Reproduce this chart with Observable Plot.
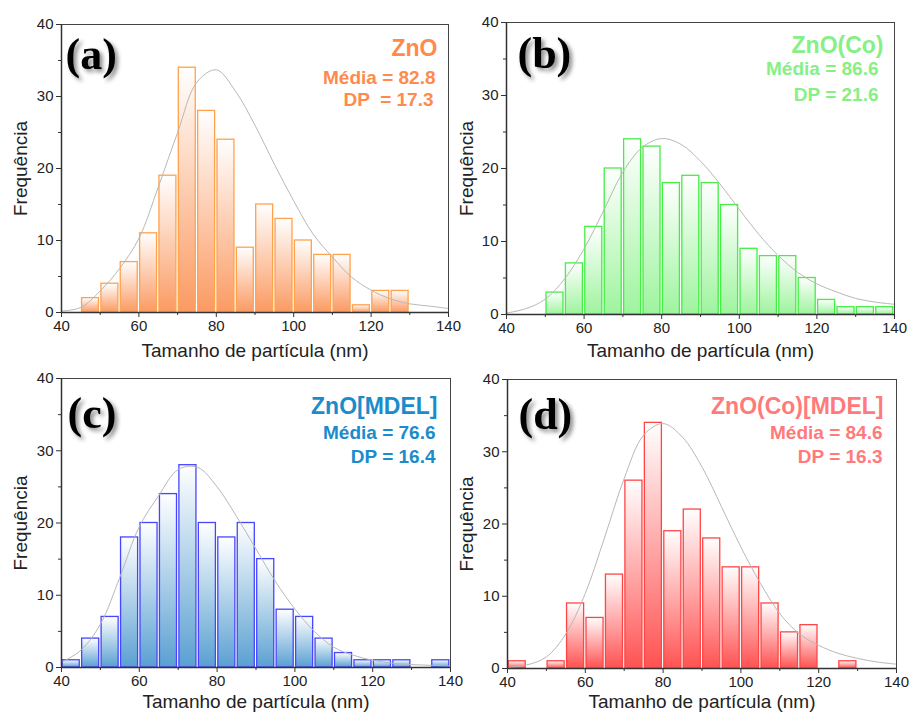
<!DOCTYPE html>
<html><head><meta charset="utf-8">
<script src="https://cdn.jsdelivr.net/npm/d3@7"></script>
<script src="https://cdn.jsdelivr.net/npm/@observablehq/plot@0.6"></script>
<style>
body{margin:0;background:#fff;}
#root{position:relative;width:912px;height:713px;overflow:hidden;background:#fff;}
.panel{position:absolute;}
</style></head><body>
<svg width="0" height="0" style="position:absolute">
<defs>
<linearGradient id="gA" x1="0" y1="0" x2="0" y2="1"><stop offset="0" stop-color="#ffffff"/><stop offset="1" stop-color="#fb9a62"/></linearGradient>
<linearGradient id="gB" x1="0" y1="0" x2="0" y2="1"><stop offset="0" stop-color="#ffffff"/><stop offset="1" stop-color="#9ef49e"/></linearGradient>
<linearGradient id="gC" x1="0" y1="0" x2="0" y2="1"><stop offset="0" stop-color="#ffffff"/><stop offset="1" stop-color="#5aa0d2"/></linearGradient>
<linearGradient id="gD" x1="0" y1="0" x2="0" y2="1"><stop offset="0" stop-color="#ffffff"/><stop offset="1" stop-color="#ff5252"/></linearGradient>
</defs></svg>
<div id="root"></div>
<script>
// bin starts (nm), bins are 5 nm wide
const binStarts = [40,45,50,55,60,65,70,75,80,85,90,95,100,105,110,115,120,125,130,135];
const countsA = [0,2,4,7,11,19,34,28,24,9,15,13,10,8,8,1,3,3,0,0];
const countsB = [0,0,3,7,12,20,24,23,18,19,18,15,9,8,8,5,2,1,1,1];
const countsC = [1,4,7,18,20,24,28,20,18,20,15,8,7,4,2,1,1,1,0,1];
const countsD = [1,0,1,9,7,13,26,34,19,22,18,14,14,9,5,6,0,1,0,0];

// fitted curve
const curveX = [40,45,50,55,60,65,70,75,80,85,90,95,100,105,110,115,120,125,130,135,140];
const curveA = [0.2,0.7,3.0,6.1,10.3,17.4,25,32,33.7,30.7,26,20.6,15.5,10.9,7.7,4.9,3.1,1.9,1.2,0.9,0.55];
const curveB = [0.2,0.8,2.1,4.9,9,14.2,19.5,22.9,24.1,23.3,21,17.9,14.4,11,8.1,5.8,4.2,3.1,2.2,1.7,1.4];
const curveC = [0.7,2.4,6,12.5,19.5,23.8,27.4,27.7,25,20.9,16.4,11.9,8.1,5,2.8,1.7,1,0.6,0.4,0.3,0.2];
const curveD = [0.15,0.5,1.6,4.8,10.4,18.2,26.3,32.3,33.9,32,27.9,22.4,16.8,11.8,7.6,4.8,3.2,2.1,1.4,0.9,0.6];

const letters = ["(a)","(b)","(c)","(d)"];
const titles = ["ZnO","ZnO(Co)","ZnO[MDEL]","ZnO(Co)[MDEL]"];
const medias = ["Média = 82.8","Média = 86.6","Média = 76.6","Média = 84.6"];
const dps = ["DP  = 17.3","DP = 21.6","DP = 16.4","DP = 16.3"];
const xTicks = [40,60,80,100,120,140];
const xMinor = [50,70,90,110,130];
const yTicks = [0,10,20,30,40];
const yMinor = [5,15,25,35];
const xTitle = "Tamanho de partícula (nm)";
const yTitle = "Frequência";

const panels = [
  {counts: countsA, curve: curveA, grad: "url(#gA)", stroke: "#ffa24e", tcol: "#ff8a4d",
   left: 0, top: 0, mL: 61, mT: 24, mR: 8, mB: 44,
   letter: [4, 44], t: [[-11,31],[-13,59],[-15,81]], xt: 44, yt: -41},
  {counts: countsB, curve: curveB, grad: "url(#gB)", stroke: "#44ee44", tcol: "#86f086",
   left: 445, top: 0, mL: 61, mT: 22, mR: 7, mB: 42,
   letter: [11, 45], t: [[-11,30],[-16,52],[-16,78]], xt: 42, yt: -40},
  {counts: countsC, curve: curveC, grad: "url(#gC)", stroke: "#4646ff", tcol: "#1a8ccc",
   left: 0, top: 356, mL: 61, mT: 22, mR: 6, mB: 45,
   letter: [6, 49], t: [[-13,35],[-15,60],[-15,84]], xt: 40, yt: -41},
  {counts: countsD, curve: curveD, grad: "url(#gD)", stroke: "#ff4646", tcol: "#ff7a7a",
   left: 446, top: 357, mL: 61, mT: 22, mR: 6, mB: 45,
   letter: [11, 49], t: [[-13,34],[-14,59],[-14,83]], xt: 39, yt: -41}
];

const root = document.getElementById("root");
panels.forEach((p, i) => {
  const bars = binStarts.map((b, j) => ({x1: b, x2: b + 5, y: p.counts[j]})).filter(d => d.y > 0);
  const pts = curveX.map((x, j) => ({x, y: p.curve[j]}));
  const svg = Plot.plot({
    width: 456, height: 356,
    marginLeft: p.mL, marginTop: p.mT, marginRight: p.mR, marginBottom: p.mB,
    x: {domain: [40, 140], label: null},
    y: {domain: [0, 40], label: null},
    style: {fontFamily: "'Liberation Sans', Arial, sans-serif", fontSize: "15px", color: "#222", background: "transparent", overflow: "visible"},
    marks: [
      Plot.rectY(bars, {x1: "x1", x2: "x2", y: "y", fill: p.grad, stroke: p.stroke, strokeWidth: 1.3, insetLeft: 1.2, insetRight: 1.2}),
      Plot.line(pts, {x: "x", y: "y", stroke: "#b8b8b8", strokeWidth: 1, curve: "catmull-rom"}),
      Plot.frame({stroke: "#444", strokeWidth: 1}),
      Plot.ruleX([40], {stroke: "#333", strokeWidth: 1.5}),
      Plot.ruleY([0], {stroke: "#333", strokeWidth: 1.5}),
      Plot.axisX({ticks: xTicks, tickSize: 5, tickPadding: 3, fontSize: 15, label: null, stroke: "#333"}),
      Plot.axisX({ticks: xMinor, tickSize: 3, tickFormat: () => "", label: null, stroke: "#333"}),
      Plot.axisY({ticks: yTicks, tickSize: 5, tickPadding: 3, fontSize: 15, label: null, stroke: "#333"}),
      Plot.axisY({ticks: yMinor, tickSize: 3, tickFormat: () => "", label: null, stroke: "#333"}),
      Plot.text([xTitle], {frameAnchor: "bottom", dy: p.xt, lineAnchor: "bottom", fontSize: 19, fill: "#222"}),
      Plot.text([yTitle], {frameAnchor: "left", dx: p.yt, rotate: -90, textAnchor: "middle", lineAnchor: "middle", fontSize: 19, fill: "#222"}),
      Plot.text([letters[i]], {frameAnchor: "top-left", dx: p.letter[0], dy: p.letter[1], textAnchor: "start", lineAnchor: "bottom", fontFamily: "'Liberation Serif', 'Times New Roman', serif", fontWeight: "bold", fontSize: 44, fill: "#000"}),
      Plot.text([titles[i]], {frameAnchor: "top-right", dx: p.t[0][0], dy: p.t[0][1], textAnchor: "end", lineAnchor: "bottom", fontWeight: "bold", fontSize: 23, fill: p.tcol}),
      Plot.text([medias[i]], {frameAnchor: "top-right", dx: p.t[1][0], dy: p.t[1][1], textAnchor: "end", lineAnchor: "bottom", fontWeight: "bold", fontSize: 19, fill: p.tcol}),
      Plot.text([dps[i]], {frameAnchor: "top-right", dx: p.t[2][0], dy: p.t[2][1], textAnchor: "end", lineAnchor: "bottom", fontWeight: "bold", fontSize: 19, fill: p.tcol})
    ]
  });
  svg.classList.add("panel");
  svg.style.left = p.left + "px";
  svg.style.top = p.top + "px";
  d3.select(svg).selectAll("text").filter(function() { return /^\([a-d]\)$/.test(this.textContent); })
    .style("filter", "drop-shadow(3px 3px 2px rgba(0,0,0,0.45))");
  root.appendChild(svg);
});
</script>
</body></html>
